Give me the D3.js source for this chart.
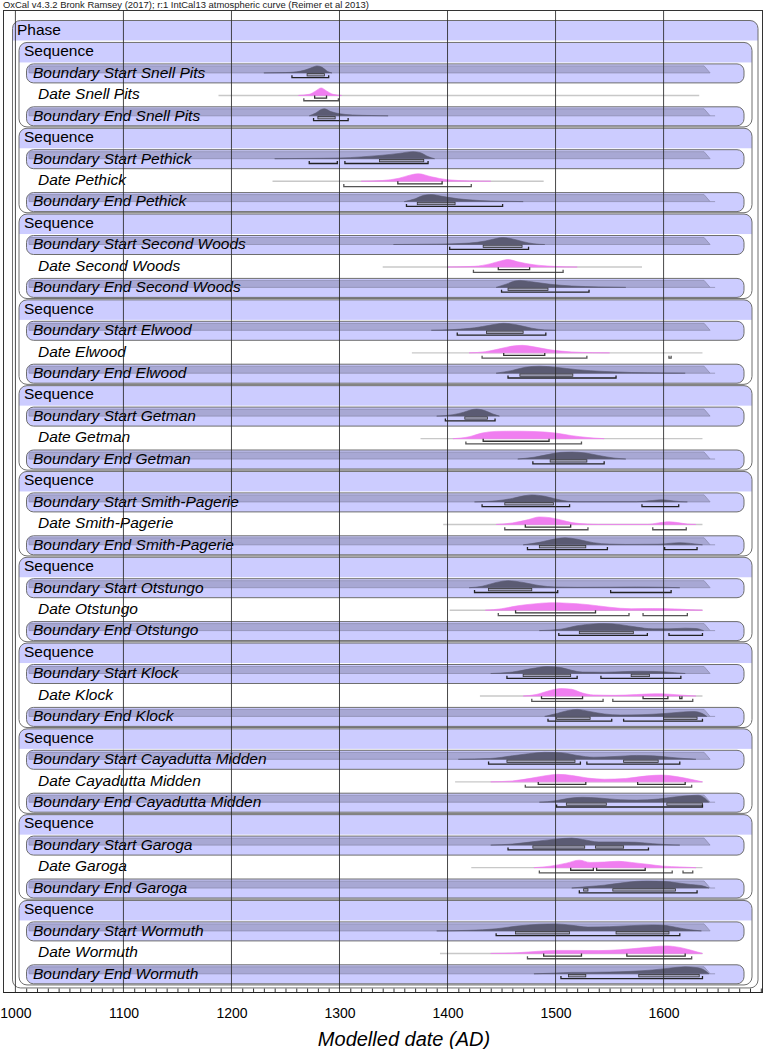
<!DOCTYPE html>
<html><head><meta charset="utf-8">
<script src="https://cdn.jsdelivr.net/npm/d3@7"></script>
<style>body{margin:0;background:#fff}svg{display:block}text{font-family:"Liberation Sans",Arial,sans-serif}</style>
</head><body><svg id="c" width="765" height="1049"></svg>
<script>
const headerText = "OxCal v4.3.2 Bronk Ramsey (2017); r:1 IntCal13 atmospheric curve (Reimer et al 2013)";
const axisTitle = "Modelled date (AD)";
const tickYears = [1000,1100,1200,1300,1400,1500,1600];
const sites = ["Snell Pits","Pethick","Second Woods","Elwood","Getman","Smith-Pagerie","Otstungo","Klock","Cayadutta Midden","Garoga","Wormuth"];

// posterior shapes [year, relative density]
const startDist = [
 [[1230,0],[1250,0.05],[1260,0.15],[1268,0.4],[1275,0.8],[1279,1],[1284,0.8],[1289,0.2],[1293,0]],
 [[1240,0],[1270,0.04],[1300,0.1],[1320,0.25],[1340,0.5],[1355,0.75],[1368,1],[1375,0.85],[1382,0.3],[1388,0]],
 [[1350,0],[1390,0.05],[1420,0.2],[1435,0.5],[1445,0.85],[1451,1],[1460,0.8],[1470,0.4],[1480,0.1],[1490,0]],
 [[1385,0],[1405,0.1],[1425,0.35],[1440,0.75],[1452,1],[1465,0.75],[1478,0.3],[1490,0.05],[1500,0]],
 [[1390,0],[1405,0.2],[1415,0.55],[1422,0.9],[1427,1],[1435,0.75],[1442,0.3],[1448,0]],
 [[1425,0],[1445,0.15],[1460,0.5],[1472,0.9],[1478,1],[1490,0.8],[1502,0.35],[1512,0.08],[1520,0.02],[1575,0.03],[1590,0.2],[1598,0.3],[1606,0.2],[1616,0.03],[1622,0]],
 [[1420,0],[1432,0.2],[1445,0.75],[1456,1],[1470,0.75],[1485,0.3],[1500,0.1],[1520,0.05],[1550,0.07],[1575,0.1],[1600,0.06],[1615,0]],
 [[1440,0],[1460,0.2],[1478,0.7],[1492,1],[1505,0.85],[1515,0.45],[1525,0.2],[1545,0.18],[1565,0.28],[1578,0.32],[1595,0.28],[1610,0.12],[1620,0]],
 [[1410,0],[1440,0.12],[1460,0.5],[1475,0.8],[1490,1],[1505,0.95],[1520,0.55],[1535,0.3],[1555,0.4],[1575,0.55],[1590,0.5],[1605,0.3],[1620,0.1],[1630,0]],
 [[1440,0],[1460,0.15],[1480,0.5],[1500,0.85],[1515,1],[1525,0.8],[1540,0.45],[1560,0.45],[1575,0.4],[1590,0.2],[1605,0.05],[1615,0]],
 [[1390,0],[1420,0.08],[1445,0.3],[1465,0.7],[1485,0.95],[1500,1],[1515,0.8],[1530,0.55],[1550,0.6],[1570,0.75],[1590,0.85],[1600,0.8],[1612,0.5],[1625,0.15],[1635,0]]
];
const dateDist = [
 [[1262,0],[1272,0.15],[1278,0.6],[1283,1],[1288,0.6],[1294,0.15],[1302,0]],
 [[1320,0],[1340,0.1],[1355,0.4],[1366,0.85],[1373,1],[1385,0.6],[1400,0.2],[1420,0.05],[1440,0]],
 [[1400,0],[1425,0.1],[1440,0.45],[1450,0.85],[1456,1],[1465,0.7],[1480,0.3],[1500,0.08],[1520,0]],
 [[1420,0],[1435,0.15],[1450,0.6],[1460,0.9],[1469,1],[1480,0.8],[1495,0.4],[1515,0.12],[1535,0.03],[1550,0]],
 [[1405,0],[1420,0.25],[1432,0.75],[1445,0.97],[1460,1],[1480,0.95],[1500,0.75],[1515,0.4],[1530,0.15],[1545,0]],
 [[1445,0],[1460,0.2],[1475,0.65],[1485,1],[1495,0.9],[1505,0.6],[1515,0.25],[1530,0.05],[1540,0],[1585,0],[1595,0.2],[1605,0.35],[1613,0.25],[1622,0.05],[1630,0]],
 [[1435,0],[1450,0.2],[1465,0.6],[1480,0.85],[1495,1],[1510,0.95],[1530,0.75],[1550,0.4],[1570,0.2],[1590,0.22],[1610,0.18],[1625,0.08],[1636,0]],
 [[1470,0],[1482,0.2],[1495,0.75],[1505,1],[1515,0.9],[1525,0.4],[1535,0.15],[1555,0.1],[1575,0.2],[1592,0.3],[1605,0.25],[1618,0.12],[1630,0]],
 [[1440,0],[1460,0.12],[1478,0.5],[1492,0.85],[1502,1],[1515,0.85],[1530,0.5],[1545,0.35],[1565,0.45],[1585,0.8],[1598,0.9],[1612,0.7],[1625,0.35],[1636,0]],
 [[1480,0],[1495,0.2],[1510,0.6],[1522,1],[1532,0.7],[1545,0.75],[1558,0.85],[1570,0.7],[1585,0.45],[1600,0.2],[1615,0.1],[1630,0]],
 [[1440,0],[1465,0.1],[1485,0.3],[1500,0.4],[1520,0.4],[1540,0.38],[1560,0.5],[1580,0.75],[1595,0.95],[1602,1],[1615,0.8],[1625,0.45],[1636,0]]
];
const endDist = [
 [[1272,0],[1278,0.4],[1283,0.9],[1286,1],[1292,0.6],[1300,0.3],[1312,0.12],[1330,0.04],[1345,0]],
 [[1360,0],[1370,0.4],[1378,0.9],[1385,1],[1395,0.75],[1410,0.4],[1430,0.15],[1450,0.05],[1470,0]],
 [[1445,0],[1455,0.5],[1462,0.9],[1467,1],[1478,0.8],[1495,0.45],[1515,0.2],[1540,0.07],[1565,0]],
 [[1445,0],[1460,0.4],[1472,0.85],[1485,1],[1500,0.85],[1520,0.5],[1545,0.25],[1570,0.1],[1600,0.03],[1620,0]],
 [[1465,0],[1480,0.25],[1495,0.7],[1505,0.95],[1515,1],[1528,0.85],[1540,0.5],[1555,0.12],[1565,0]],
 [[1470,0],[1485,0.35],[1500,0.85],[1509,1],[1520,0.8],[1535,0.3],[1550,0.1],[1565,0.05],[1595,0.08],[1605,0.2],[1615,0.3],[1625,0.2],[1636,0]],
 [[1485,0],[1505,0.2],[1520,0.7],[1535,0.95],[1545,1],[1560,0.85],[1575,0.5],[1590,0.25],[1605,0.25],[1620,0.35],[1630,0.3],[1637,0]],
 [[1490,0],[1502,0.45],[1512,0.85],[1520,1],[1530,0.75],[1545,0.35],[1560,0.2],[1580,0.25],[1600,0.4],[1615,0.6],[1628,0.7],[1636,0.4],[1640,0]],
 [[1485,0],[1500,0.2],[1512,0.55],[1525,0.7],[1540,0.6],[1560,0.35],[1575,0.3],[1595,0.45],[1610,0.75],[1625,0.95],[1632,1],[1638,0.6],[1642,0]],
 [[1515,0],[1530,0.2],[1545,0.4],[1560,0.7],[1575,0.95],[1585,1],[1600,0.95],[1612,0.75],[1625,0.5],[1635,0.35],[1642,0]],
 [[1480,0],[1500,0.1],[1515,0.2],[1530,0.2],[1550,0.25],[1570,0.35],[1590,0.55],[1605,0.8],[1620,1],[1630,0.9],[1638,0.5],[1642,0]]
];
// ranges
const start68 = [[[1270,1286]],[[1337,1378]],[[1433,1469]],[[1436,1470]],[[1416,1437]],[[1453,1498]],[[1438,1478]],[[1470,1514],[1570,1587]],[[1455,1518],[1563,1595]],[[1479,1527],[1537,1563]],[[1463,1513],[1556,1605]]];
const start95 = [[[1256,1290]],[[1272,1298],[1305,1382]],[[1402,1475]],[[1409,1491]],[[1398,1444]],[[1432,1513],[1580,1614]],[[1425,1502],[1551,1607]],[[1455,1520],[1542,1616]],[[1438,1523],[1529,1615]],[[1456,1586]],[[1445,1615]]];
const date68 = [[[1277,1288]],[[1354,1395]],[[1447,1476]],[[1452,1490]],[[1433,1494]],[[1472,1514]],[[1463,1537]],[[1487,1525],[1581,1604],[1615,1617]],[[1484,1528],[1576,1620]],[[1514,1535],[1538,1583]],[[1489,1524],[1566,1620]]];
const date95 = [[[1267,1299]],[[1304,1422]],[[1424,1507]],[[1432,1529],[1605,1607]],[[1417,1524]],[[1453,1530],[1590,1621]],[[1447,1568],[1581,1622]],[[1478,1544],[1553,1627]],[[1472,1626]],[[1485,1608],[1618,1627]],[[1474,1626]]];
const end68 = [[[1280,1296]],[[1372,1407]],[[1456,1493]],[[1467,1516]],[[1495,1529]],[[1485,1528]],[[1522,1572]],[[1501,1532],[1600,1631]],[[1510,1547],[1603,1636]],[[1526,1530],[1553,1611]],[[1512,1528],[1577,1633]]];
const end95 = [[[1276,1308]],[[1362,1451]],[[1450,1531]],[[1456,1556]],[[1479,1545]],[[1474,1548],[1601,1631]],[[1503,1585],[1605,1636]],[[1493,1552],[1563,1636]],[[1501,1636]],[[1522,1631]],[[1505,1636]]];
const datePrior = [[1188,1633],[1238,1489],[1340,1580],[1367,1636],[1375,1636],[1396,1636],[1402,1636],[1430,1636],[1407,1636],[1422,1636],[1393,1636]];

const svg = d3.select("#c");
const x = d3.scaleLinear().domain([1000,1690]).range([15.4, 15.4+690*1.0803]);
const rowH = 21.45, top0 = 20.5, seqH = 4*rowH;
const lav = "#ccccff", boxStroke = "#6e6e6e";
const FS = 15.5;

// header text
svg.append("text").attr("x",3).attr("y",8).attr("font-size",9.6).attr("fill","#222")
  .attr("textLength",366).attr("lengthAdjust","spacingAndGlyphs").text(headerText);

const defs = svg.append("defs");
function container(g, x0, x1, y0, y1, label, id){
  const r = 8;
  defs.append("clipPath").attr("id",id).append("rect").attr("x",x0).attr("y",y0).attr("width",x1-x0).attr("height",y1-y0).attr("rx",r);
  g.append("rect").attr("x",x0).attr("y",y0).attr("width",x1-x0).attr("height",y1-y0).attr("rx",r).attr("fill","#fff");
  g.append("rect").attr("x",x0).attr("y",y0).attr("width",x1-x0).attr("height",20).attr("fill",lav).attr("clip-path",`url(#${id})`);
  g.append("rect").attr("x",x0).attr("y",y0).attr("width",x1-x0).attr("height",y1-y0).attr("rx",r)
    .attr("fill","none").attr("stroke",boxStroke).attr("stroke-width",1);
}

const gBoxes = svg.append("g");
const gMarks = svg.append("g");

// Phase
const phaseBottom = top0 + rowH + 10*seqH + 88;
container(gBoxes, 12.5, 758, top0, phaseBottom, "Phase", "cp");
gBoxes.append("text").attr("x",17).attr("y",top0+14.5).attr("font-size",FS).text("Phase");

const area = d3.area().curve(d3.curveMonotoneX).x(d=>x(d[0]));
function drawDist(data, base, h, fill){
  gMarks.append("path").datum(data)
    .attr("d", area.y0(base).y1(d=>base - h*d[1]))
    .attr("fill", fill).attr("stroke", fill).attr("stroke-width",0.6);
}
function drawBars(ranges, y, color, w, boxed){
  ranges.forEach(r=>{
    const a = x(r[0]), b = x(r[1]);
    if(boxed){
      gMarks.append("rect").attr("x",a).attr("y",y-1.6).attr("width",Math.max(b-a,1)).attr("height",2.4)
        .attr("fill","#a0a0b8").attr("stroke","#333").attr("stroke-width",0.8);
    } else {
      gMarks.append("path").attr("d",`M${a},${y-2.5}V${y}H${b}V${y-2.5}`)
        .attr("fill","none").attr("stroke",color).attr("stroke-width",w);
    }
  });
}
function boundaryRow(T, label, dist, r68, r95, isEnd){
  gBoxes.append("rect").attr("x",26.5).attr("y",T+0.5).attr("width",744-26.5).attr("height",19).attr("rx",7)
    .attr("fill",lav).attr("stroke",boxStroke).attr("stroke-width",1);
  const xr = x(1637.5);
  gBoxes.append("path").attr("d",`M29,${T+2.5}H${xr}L${xr+6},${T+9.5}H29Z`)
    .attr("fill","#a8a8d4").attr("stroke","#8d8db0").attr("stroke-width",0.8);
  if(isEnd) gBoxes.append("path").attr("d",`M${xr+6},${T+9.5}H${xr+11}`).attr("stroke","#8d8db0").attr("stroke-width",0.8);
  gBoxes.append("text").attr("x",33).attr("y",T+14.3).attr("font-size",FS).attr("font-style","italic").text(label);
  drawDist(dist, T+9.5, 7, "#5b5b73");
  drawBars(r68, T+11.8, "#333", 1, true);
  drawBars(r95, T+14.3, "#222", 1.3, false);
}
function dateRow(T, label, dist, r68, r95, prior){
  gBoxes.append("text").attr("x",38).attr("y",T+14.3).attr("font-size",FS).attr("font-style","italic").text(label);
  gMarks.append("line").attr("x1",x(prior[0])).attr("x2",x(prior[1])).attr("y1",T+10.6).attr("y2",T+10.6)
    .attr("stroke","#c8c8c8").attr("stroke-width",1.4);
  drawDist(dist, T+10.6, 7.5, "#f07ef0");
  drawBars(r68, T+13.2, "#333", 1.3, false);
  drawBars(r95, T+15.9, "#555", 1.3, false);
}

sites.forEach((s,i)=>{
  const T = top0 + rowH + i*seqH;
  container(gBoxes, 19, 752, T+0.5, T+seqH-0.8, "Sequence", "cs"+i);
  gBoxes.append("text").attr("x",24).attr("y",T+14.3).attr("font-size",FS).text("Sequence");
  boundaryRow(T+rowH, "Boundary Start "+s, startDist[i], start68[i], start95[i], false);
  dateRow(T+2*rowH, "Date "+s, dateDist[i], date68[i], date95[i], datePrior[i]);
  boundaryRow(T+3*rowH, "Boundary End "+s, endDist[i], end68[i], end95[i], true);
});

// frame
const axisY = 992.5;
svg.append("rect").attr("x",3.5).attr("y",10.5).attr("width",759).attr("height",axisY-10.5)
  .attr("fill","none").attr("stroke","#333").attr("stroke-width",1);

// gridlines
svg.append("g").selectAll("line").data(tickYears).join("line")
  .attr("x1",d=>x(d)).attr("x2",d=>x(d)).attr("y1",10.5).attr("y2",axisY)
  .attr("stroke","#2a2a2a").attr("stroke-width",1).attr("opacity",0.85);

// minor ticks
const minor = d3.range(1000,1691,10).filter(v=>v%100!==0);
const gMinor = svg.append("g").attr("transform",`translate(0,${axisY})`)
  .call(d3.axisTop(x).tickValues(minor).tickSize(4).tickFormat(""));
gMinor.select(".domain").remove();
gMinor.selectAll("line").attr("stroke","#333");

// labels
const gLab = svg.append("g").attr("transform",`translate(0,${axisY})`)
  .call(d3.axisBottom(x).tickValues(tickYears).tickSize(0).tickPadding(16).tickFormat(d3.format("d")));
gLab.select(".domain").remove();
gLab.selectAll("text").attr("font-size",14).attr("font-family","Liberation Sans, Arial, sans-serif").attr("fill","#000");

svg.append("line").attr("x1",3.5).attr("x2",762.5).attr("y1",axisY).attr("y2",axisY).attr("stroke","#222").attr("stroke-width",1.2);

svg.append("text").attr("x",404).attr("y",1046).attr("text-anchor","middle").attr("font-size",20)
  .attr("font-style","italic").text(axisTitle);
</script></body></html>
